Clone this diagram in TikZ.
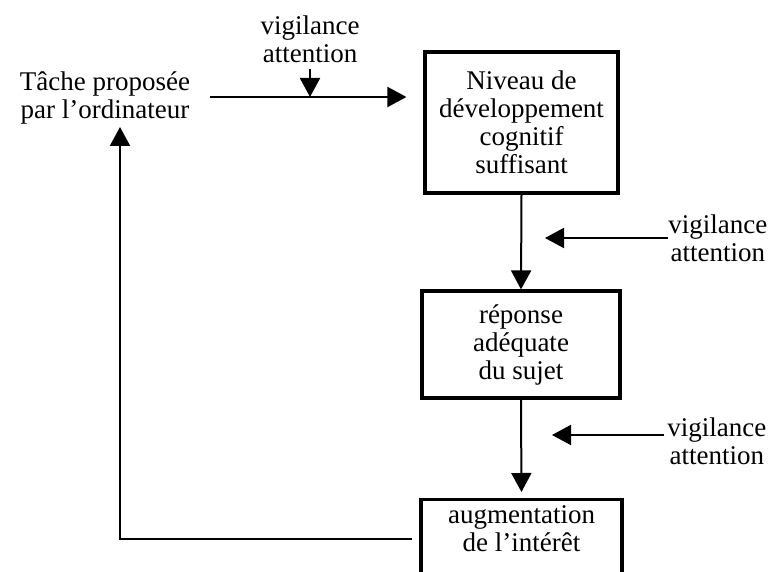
\documentclass[tikz,border=0pt]{standalone}
\usepackage{fontspec}
\setmainfont{Liberation Serif}
\usetikzlibrary{arrows.meta}

\begin{document}
\begin{tikzpicture}[x=0.5pt,y=0.5pt]
\tikzstyle{every node}+=[inner sep=0pt, align=center, font=\fontsize{13.5}{14}\selectfont]
\tikzstyle{box}=[draw, line width=1.6pt, inner sep=3pt]
\tikzstyle{fleche}=[line width=1pt, -{Triangle[length=9.5pt,width=10pt]}]
\useasboundingbox (0,0) rectangle (777,-572);
\clip (0,0) rectangle (777,-572);
% entree
\node (tache) at (105,-98) {Tâche proposée\\par l’ordinateur};
\node (vig0) at (310,-39) {vigilance\\attention};
% les trois cases
\node [box, minimum width=96.5pt, minimum height=70.5pt] (niveau) at (521.5,-122.5) {Niveau de\\développement\\cognitif\\suffisant};
\node [box, minimum width=99pt, minimum height=53.5pt] (reponse) at (521,-344.5) {réponse\\adéquate\\du sujet};
\node [box, minimum width=100.5pt, anchor=north, text depth=32pt] (interet) at (521.5,-498) {augmentation\\de l’intérêt};
% vigilance a droite
\node [anchor=west] (vig1) at (668,-238) {vigilance\\attention};
\node [anchor=west] (vig2) at (667,-441) {vigilance\\attention};
\coordinate (in0) at (210,-97);
\coordinate (p1) at (545,-238);
\coordinate (q2) at (664,-435);
\coordinate (p2) at (552,-435);
\coordinate (r0) at (412,-539);
\coordinate (r1) at (120,-127);
% fleches
\draw [fleche, shorten >=8.5pt] (in0) -- (in0 -| niveau.west);
\draw [fleche, shorten <=3pt] (vig0.south) -- (vig0.south |- in0);
\draw [fleche] (niveau.south) -- (reponse.north);
\draw [fleche] (vig1.west) -- (p1);
\draw [fleche] (q2) -- (p2);
\draw [fleche, shorten >=3pt] (reponse.south) -- (interet.north);
% retour
\draw [fleche] (r0) -| (r1);
\end{tikzpicture}
\end{document}
